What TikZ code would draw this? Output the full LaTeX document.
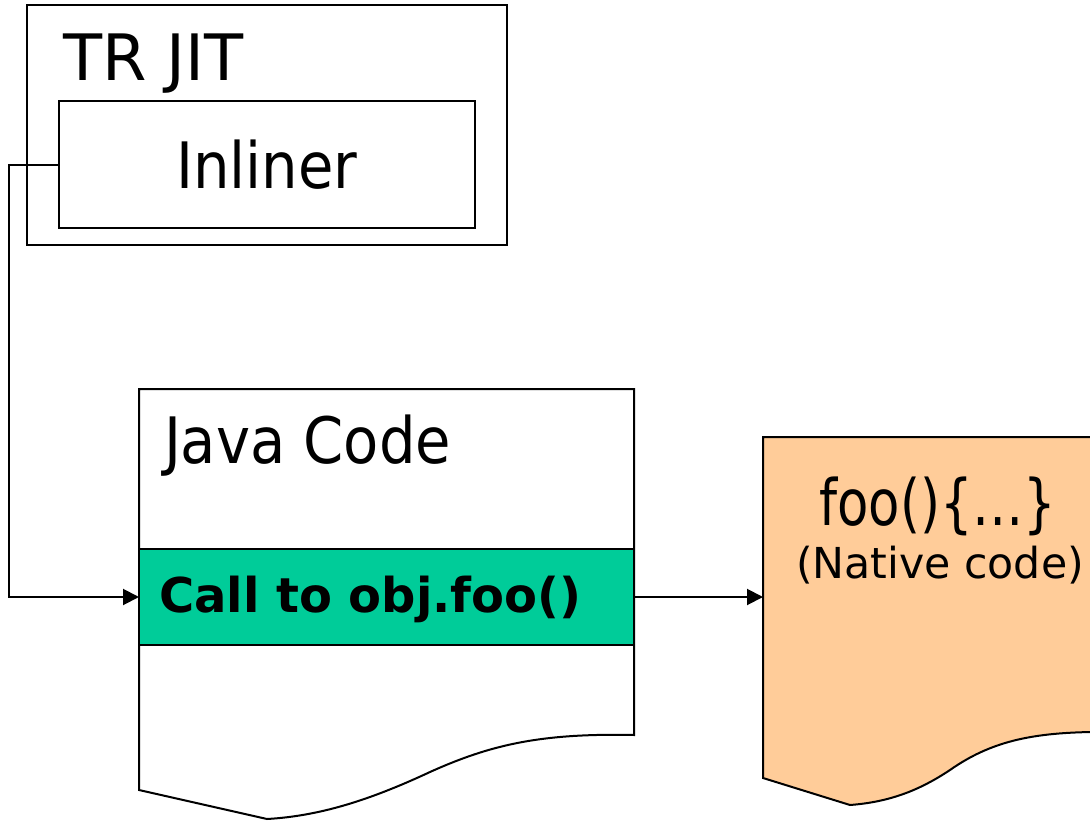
\documentclass[tikz,border=0pt]{standalone}
\usepackage{fontspec}
\setmainfont{DejaVu Sans Condensed}
\newfontfamily\widefont{DejaVu Sans}
\usetikzlibrary{arrows.meta,positioning}

\definecolor{callgreen}{RGB}{0,204,153}
\definecolor{nativeorange}{RGB}{255,204,153}

\begin{document}
\begin{tikzpicture}[
                            x=0.75pt,
                            y=-0.75pt,
                            line width=1.5pt,
                            >={Triangle[length=12pt,width=12pt]},
                            font=\fontsize{48}{52}\selectfont
                        ]

                        \tikzstyle{box}=[draw=black,rectangle,inner sep=0pt,outer sep=0pt]
                        \tikzstyle{label}=[anchor=base west,inner sep=0pt]
                        \tikzstyle{band}=[box,fill=callgreen,minimum width=371.25pt,minimum height=72pt]

                        \useasboundingbox (0,0) rectangle (1090,821);

                        % TR JIT with the inliner
                        \node[box,minimum width=360pt,minimum height=180pt] (jit) at (267,125) {} ;
                        \node[label,font=\fontsize{48}{52}\widefont] (jitname) at (62,80) {TR JIT} ;
                        \node[box,minimum width=312pt,minimum height=95.25pt] (inliner) at (267,164.5) {Inliner} ;

                        % Java code document
                        \draw[fill=white] (139,389) -- (634,389) -- (634,735)
                            .. controls (540,733) and (490,745) .. (430,772)
                            .. controls (370,800) and (320,816) .. (267,819)
                            -- (139,790) -- cycle ;
                        \node[label] (javaname) at (163,463) {Java Code} ;
                        \node[band] (call) at (386.5,597) {} ;
                        \node[label,font=\fontsize{36}{40}\widefont\bfseries] (calltext) at (158,612) {Call to obj.foo()} ;

                        % native code document
                        \fill[nativeorange] (1092,437) -- (763,437) -- (763,778)
                            -- (850,805)
                            .. controls (890,802) and (920,790) .. (950,770)
                            .. controls (990,742) and (1030,733) .. (1092,732) -- cycle ;
                        \draw (1092,437) -- (763,437) -- (763,778)
                            -- (850,805)
                            .. controls (890,802) and (920,790) .. (950,770)
                            .. controls (990,742) and (1030,733) .. (1092,732) ;
                        \node[anchor=north west,inner sep=0pt,minimum width=245pt,minimum height=255pt] (native) at (763,437) {} ;
                        \node[anchor=base,inner sep=0pt] (nativename) at (938,525) {\scalebox{0.89}[1]{foo()\{…\}}} ;
                        \node[anchor=base,inner sep=0pt,font=\fontsize{32}{36}\widefont] (nativenote) at (940,578) {(Native code)} ;

                        \draw[->] (inliner.west) -- ++(-50,0) |- (call.west) ;
                        \draw[->] (call.east) -- (call.east -| native.west) ;
                    \end{tikzpicture}
\end{document}
